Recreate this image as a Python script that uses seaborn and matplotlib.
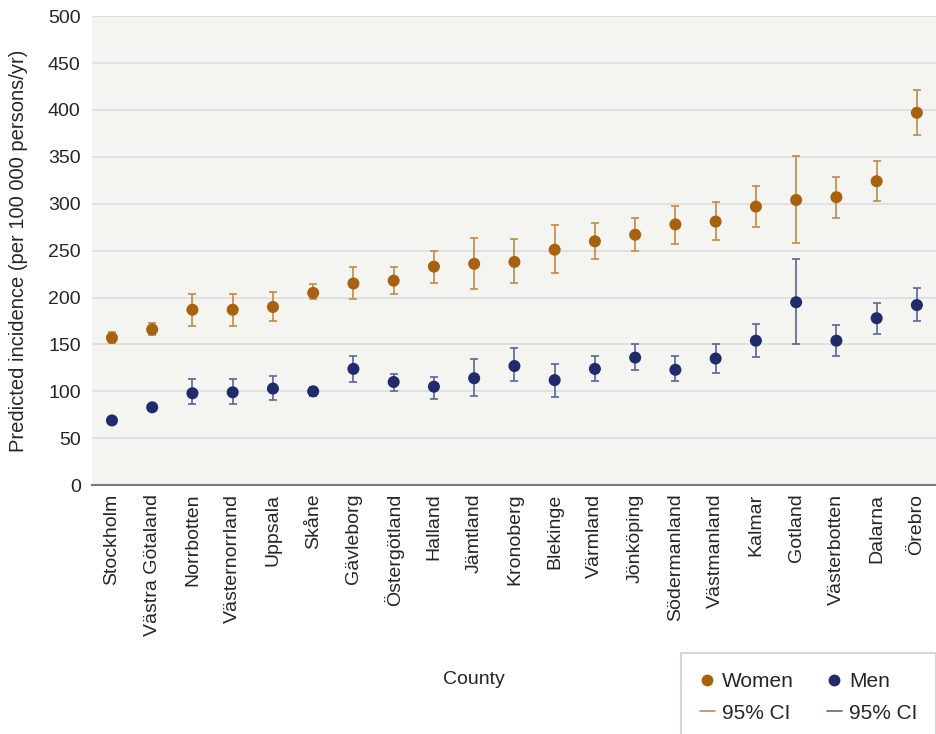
import numpy as np
import pandas as pd
import matplotlib
matplotlib.use("Agg")
import matplotlib.pyplot as plt
from matplotlib.lines import Line2D
import seaborn as sns

counties = ["Stockholm", "Västra Götaland", "Norrbotten", "Västernorrland", "Uppsala",
            "Skåne", "Gävleborg", "Östergötland", "Halland", "Jämtland", "Kronoberg",
            "Blekinge", "Värmland", "Jönköping", "Södermanland", "Västmanland",
            "Kalmar", "Gotland", "Västerbotten", "Dalarna", "Örebro"]

women = [157, 166, 187, 187, 190, 205, 215, 218, 233, 236, 238,
         251, 260, 267, 278, 281, 297, 304, 307, 324, 397]
women_lo = [152, 160, 170, 170, 175, 198, 198, 204, 215, 209, 216,
            226, 241, 250, 257, 261, 275, 258, 285, 303, 373]
women_hi = [163, 173, 204, 204, 206, 214, 233, 233, 250, 263, 262,
            277, 280, 285, 298, 302, 319, 351, 329, 346, 421]

men = [69, 83, 98, 99, 103, 100, 124, 110, 105, 114, 127,
       112, 124, 136, 123, 135, 154, 195, 154, 178, 192]
men_lo = [67, 81, 87, 87, 91, 95, 110, 100, 92, 95, 111,
          94, 111, 123, 111, 120, 137, 150, 138, 161, 175]
men_hi = [72, 86, 113, 113, 116, 105, 138, 119, 115, 134, 146,
          129, 138, 150, 138, 151, 172, 241, 171, 194, 210]

WOMEN_C = "#A8620F"
MEN_C = "#1F2B6B"
WOMEN_CI = "#C08A4A"
MEN_CI = "#5A6596"

sns.set_style("white")
plt.rcParams["font.family"] = ["Liberation Sans", "DejaVu Sans"]
plt.rcParams["font.size"] = 14

df = pd.DataFrame({
    "county": counties * 2,
    "rate": women + men,
    "lo": women_lo + men_lo,
    "hi": women_hi + men_hi,
    "sex": ["Women"] * len(counties) + ["Men"] * len(counties),
})

fig = plt.figure(figsize=(9.37, 7.34), dpi=100)
ax = fig.add_axes([0.098, 0.339, 0.902, 0.639])
ax.set_facecolor("#F4F4F0")

x = np.arange(len(counties))
for sex, col, cicol in [("Women", WOMEN_C, WOMEN_CI), ("Men", MEN_C, MEN_CI)]:
    sub = df[df["sex"] == sex]
    ax.errorbar(x, sub["rate"],
                yerr=[sub["rate"] - sub["lo"], sub["hi"] - sub["rate"]],
                fmt="none", ecolor=cicol, elinewidth=1.2, capsize=3, capthick=1.2,
                zorder=2)

sns.scatterplot(data=df, x="county", y="rate", hue="sex",
                palette={"Women": WOMEN_C, "Men": MEN_C},
                s=75, edgecolor="none", legend=False, zorder=3, ax=ax)

ax.set_xlim(-0.5, len(counties) - 0.5)
ax.set_ylim(0, 500)
ax.set_yticks(np.arange(0, 501, 50))
ax.yaxis.grid(True, color="#DCDCDC", linewidth=1.2)
ax.set_axisbelow(True)

ax.set_xticks(x)
ax.set_xticklabels(counties, rotation=90, fontsize=14)
ax.set_xticks(np.arange(-0.5, len(counties), 1), minor=True)
ax.tick_params(axis="x", which="major", length=0, pad=6)
ax.tick_params(axis="x", which="minor", length=5, color="#555555", width=1.2)
ax.tick_params(axis="y", length=0, labelsize=14, pad=8)

for s in ["top", "right", "left"]:
    ax.spines[s].set_visible(False)
ax.spines["bottom"].set_color("#7A7A7A")
ax.spines["bottom"].set_linewidth(1.5)

ax.set_ylabel("Predicted incidence (per 100 000 persons/yr)", fontsize=14.5)
ax.yaxis.label.set_va("center")
ax.yaxis.set_label_coords(-0.087, 0.5)
ax.set_xlabel("County", fontsize=14)
ax.xaxis.set_label_coords(0.452, -0.397)

handles = [
    Line2D([], [], marker="o", linestyle="none", color=WOMEN_C, markersize=7.5),
    Line2D([], [], color=WOMEN_CI, linewidth=1.2),
    Line2D([], [], marker="o", linestyle="none", color=MEN_C, markersize=7.5),
    Line2D([], [], color=MEN_CI, linewidth=1.2),
]
labels = ["Women", "95% CI", "Men", "95% CI"]
leg = fig.legend(handles, labels, ncol=2, loc="upper left",
                 bbox_to_anchor=(0.716, 0.124), frameon=True, fancybox=False,
                 fontsize=15, handlelength=0.7, handletextpad=0.35,
                 columnspacing=1.6, borderpad=0.9, labelspacing=0.6)
leg.get_frame().set_edgecolor("#CCCCCC")
leg.get_frame().set_linewidth(1.5)

fig.savefig("out.png", dpi=100)
